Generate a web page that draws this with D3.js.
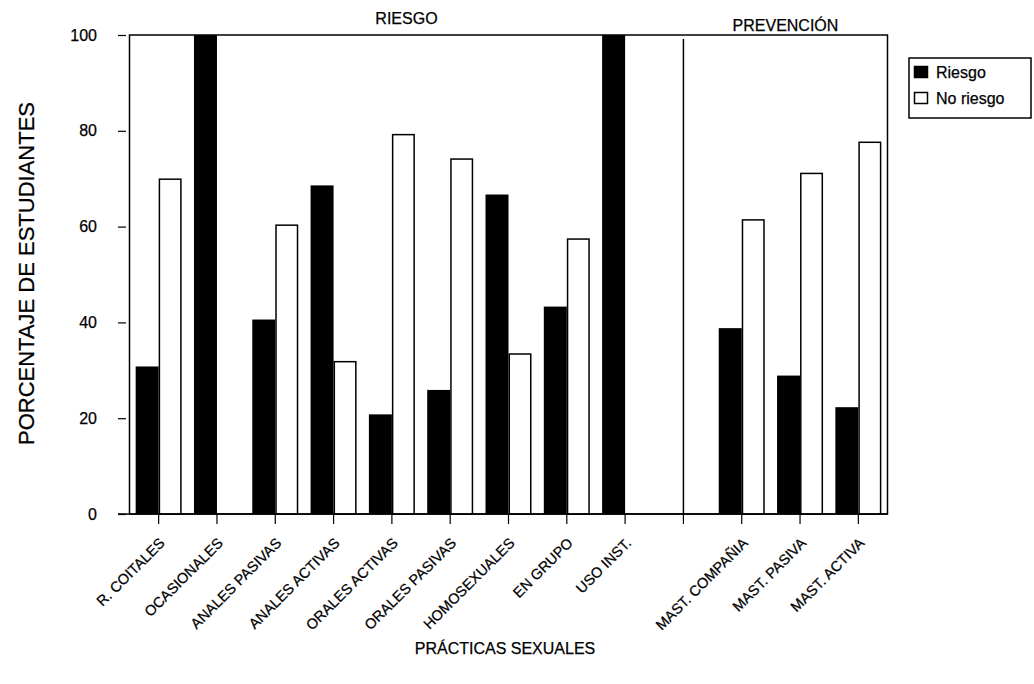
<!DOCTYPE html>
<html>
<head>
<meta charset="utf-8">
<script src="https://cdn.jsdelivr.net/npm/d3@7"></script>
<style>
  html, body { margin: 0; padding: 0; background: #fff; }
  svg { display: block; font-family: "Liberation Sans", Arial, sans-serif; }
  text { stroke: #000; stroke-width: 0.25px; }
</style>
</head>
<body>
<svg id="chart" width="1034" height="684"></svg>
<script>
// Sexual practices surveyed; the blank slot separates the two groups
const categories = ["R. COITALES", "OCASIONALES", "ANALES PASIVAS", "ANALES ACTIVAS",
  "ORALES ACTIVAS", "ORALES PASIVAS", "HOMOSEXUALES", "EN GRUPO", "USO INST.", "",
  "MAST. COMPAÑIA", "MAST. PASIVA", "MAST. ACTIVA"];
const riesgo   = [30.8, 100, 40.6, 68.6, 20.8, 25.9, 66.7, 43.3, 100, null, 38.8, 28.9, 22.3];
const noRiesgo = [69.9,   0, 60.3, 31.8, 79.2, 74.1, 33.4, 57.4,   0, null, 61.4, 71.1, 77.6];
const yTicks = [0, 20, 40, 60, 80, 100];
const seriesNames = ["Riesgo", "No riesgo"];
const groups = [
  { label: "RIESGO", from: "R. COITALES", to: "" },
  { label: "PREVENCIÓN", from: "", to: "MAST. ACTIVA" }
];

const svg = d3.select("#chart");
const plot = { left: 129.5, right: 887.5, top: 35, bottom: 514 };

const x0 = d3.scaleBand().domain(categories).range([plot.left, plot.right]).padding(0);
const half = 23;
const x1 = d3.scaleBand().domain(seriesNames)
  .range([x0.bandwidth() / 2 - half, x0.bandwidth() / 2 + half]).padding(0);
const y = d3.scaleLinear().domain([0, 100]).range([plot.bottom, plot.top]);

const rows = categories.map((c, i) => ({ cat: c, vals: [riesgo[i], noRiesgo[i]] }));

// Frame of the plotting area
svg.append("rect")
  .attr("x", plot.left).attr("y", plot.top)
  .attr("width", plot.right - plot.left).attr("height", plot.bottom - plot.top)
  .attr("fill", "none").attr("stroke", "#000").attr("stroke-width", 1.5);

// Bars
const g = svg.append("g");
rows.forEach(r => {
  if (r.vals[0] === null) return;
  const bx = x0(r.cat);
  g.append("rect")
    .attr("x", bx + x1("Riesgo")).attr("y", y(r.vals[0]))
    .attr("width", x1.bandwidth()).attr("height", y(0) - y(r.vals[0]))
    .attr("fill", "#000");
  if (r.vals[1] > 0) {
    g.append("rect")
      .attr("x", bx + x1("No riesgo") + 0.75).attr("y", y(r.vals[1]))
      .attr("width", x1.bandwidth() - 1.5).attr("height", y(0) - y(r.vals[1]))
      .attr("fill", "#fff").attr("stroke", "#000").attr("stroke-width", 1.5);
  }
});

// Separator between the two groups
const sepX = x0("") + x0.bandwidth() / 2;
svg.append("line")
  .attr("x1", sepX).attr("x2", sepX)
  .attr("y1", plot.top + 4).attr("y2", plot.bottom)
  .attr("stroke", "#000").attr("stroke-width", 1.5);

// Group headings
groups.forEach(gr => {
  const a = gr.from === "" ? sepX : plot.left;
  const b = gr.to === "" ? sepX : plot.right;
  svg.append("text")
    .attr("x", (a + b) / 2).attr("y", gr.label === "RIESGO" ? 24 : 31)
    .attr("text-anchor", "middle").attr("font-size", 16).text(gr.label);
});

// Y axis
const yAxis = svg.append("g")
  .attr("transform", `translate(126,0)`)
  .call(d3.axisLeft(y).tickValues(yTicks).tickSize(8).tickPadding(21).tickFormat(d3.format("d")));
yAxis.select(".domain").remove();
yAxis.selectAll("line").attr("stroke-width", 1.2);
yAxis.selectAll("text").attr("font-size", 16).attr("font-family", "Liberation Sans, Arial, sans-serif").attr("fill", "#000");

// X axis
const xAxis = svg.append("g")
  .attr("transform", `translate(0,${plot.bottom})`)
  .call(d3.axisBottom(x0).tickSize(10).tickSizeOuter(0));
xAxis.select(".domain").remove();
xAxis.selectAll("line").attr("stroke-width", 1.2);
xAxis.selectAll("text")
  .attr("font-size", 14.5).attr("font-family", "Liberation Sans, Arial, sans-serif").attr("fill", "#000")
  .attr("x", 0).attr("y", 0).attr("dy", 0)
  .attr("text-anchor", "end")
  .attr("transform", "translate(7,30) rotate(-45)");
svg.append("line")
  .attr("x1", 118).attr("x2", plot.right).attr("y1", plot.bottom).attr("y2", plot.bottom)
  .attr("stroke", "#000").attr("stroke-width", 1.5);

// Axis titles
svg.append("text")
  .attr("transform", `translate(26,${(100 + 447) / 2}) rotate(-90)`)
  .attr("text-anchor", "middle").attr("dominant-baseline", "central")
  .attr("font-size", 22).text("PORCENTAJE DE ESTUDIANTES");
svg.append("text")
  .attr("x", 505).attr("y", 654)
  .attr("text-anchor", "middle").attr("font-size", 16).text("PRÁCTICAS SEXUALES");

// Legend
const lg = svg.append("g").attr("transform", "translate(909,58)");
lg.append("rect").attr("width", 122).attr("height", 60)
  .attr("fill", "#fff").attr("stroke", "#000").attr("stroke-width", 1.5);
seriesNames.forEach((s, i) => {
  const row = lg.append("g").attr("transform", `translate(5,${8 + i * 26})`);
  row.append("rect").attr("x", 0.5).attr("y", 0.5).attr("width", 13).attr("height", 11)
    .attr("fill", i === 0 ? "#000" : "#fff").attr("stroke", "#000").attr("stroke-width", 1.5);
  row.append("text").attr("x", 22).attr("y", 12).attr("font-size", 16).text(s);
});
</script>
</body>
</html>
